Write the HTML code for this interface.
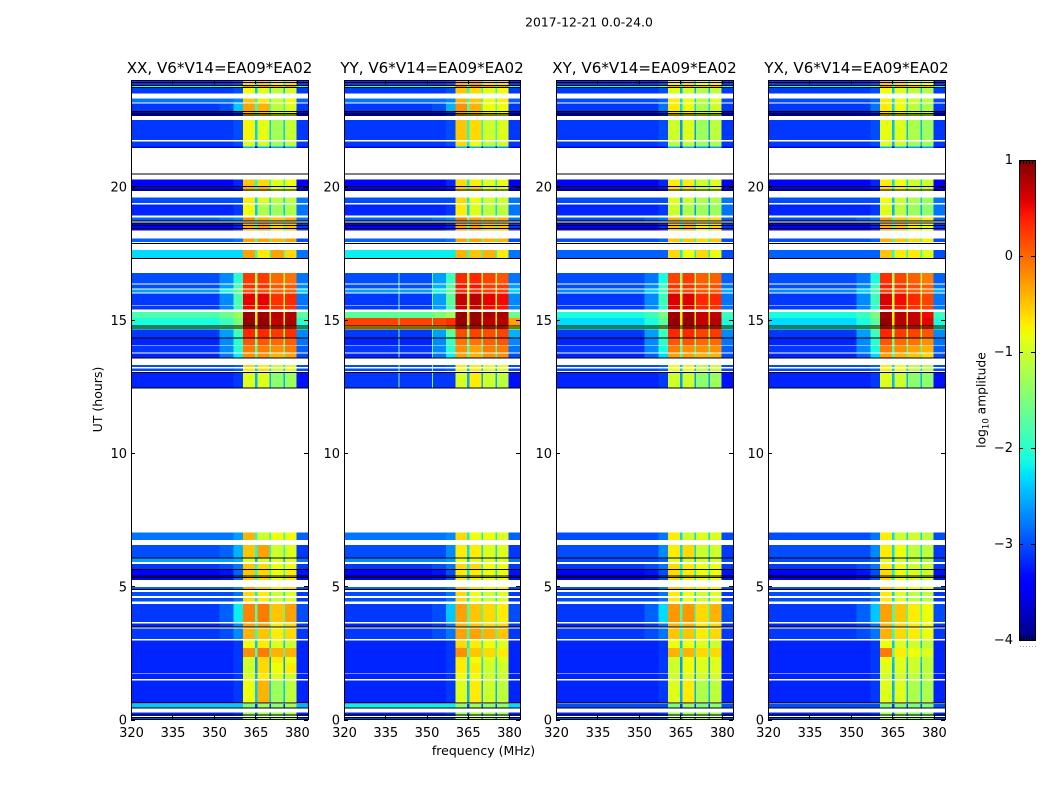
<!DOCTYPE html>
<html lang="en">
<head>
<meta charset="utf-8">
<title>2017-12-21 0.0-24.0</title>
<style>
html,body{margin:0;padding:0;background:#fff;}
svg{display:block;}
text{font-family:"DejaVu Sans","Liberation Sans",sans-serif;fill:#000;}
</style>
</head>
<body>
<svg id="figure" xmlns="http://www.w3.org/2000/svg" width="1050" height="800" viewBox="0 0 1050 800">
<defs><linearGradient id="jetGradient" x1="0" y1="1" x2="0" y2="0"></linearGradient></defs>
<text x="589" y="26.5" font-size="12.4" text-anchor="middle">2017-12-21 0.0-24.0</text>
<text x="483.5" y="755" font-size="12.5" text-anchor="middle">frequency (MHz)</text>
<text x="102" y="399.5" font-size="12.5" text-anchor="middle" transform="rotate(-90 102 399.5)">UT (hours)</text>
<text x="985.5" y="400" font-size="12.3" text-anchor="middle" transform="rotate(-90 985.5 400)">log<tspan font-size="8.5" dy="3">10</tspan><tspan dy="-3"> amplitude</tspan></text>
</svg>
<script>
// Frequency band edges in MHz: background, two roll-off zones, four passbands with notches, upper edge
const freqEdges = [320,352,357,360.5,364.8,365.7,370,370.6,375.1,375.6,379.9,384];
const xTicks = [320,335,350,365,380];
const yTicks = [0,5,10,15,20];
const cbarTicks = [1,0,-1,-2,-3,-4];
const panelTitles = ["XX, V6*V14=EA09*EA02","YY, V6*V14=EA09*EA02","XY, V6*V14=EA09*EA02","YX, V6*V14=EA09*EA02"];
// Start and end UT of each scan block (gaps are unflagged white)
const utTop = [23.98,23.81,23.72,23.31,23.12,22.84,22.50,21.69,21.51,20.27,20.01,19.59,19.33,18.84,18.64,18.06,17.62,16.76,16.33,16.14,15.99,15.53,15.29,15.06,14.79,14.64,14.32,14.01,13.74,13.31,13.18,13.02,7.02,6.54,6.07,5.83,5.63,4.98,4.79,4.56,4.33,3.61,3.42,2.97,2.68,2.34,2.12,1.70,1.47,0.58,0.27,0.07];
const utBottom = [23.81,23.72,23.49,23.16,22.84,22.65,21.75,21.51,21.45,20.01,19.83,19.38,18.92,18.73,18.36,17.92,17.31,16.37,16.18,16.03,15.56,15.38,15.06,14.79,14.64,14.32,14.04,13.78,13.58,13.22,13.07,12.44,6.73,6.07,5.92,5.63,5.23,4.86,4.63,4.42,3.65,3.47,3.02,2.68,2.34,2.12,1.73,1.52,0.645,0.44,0.13,0];
// Near-zero flagged integrations drawn as black lines
const blackLinesUT = [23.90,23.79,23.72,22.82,22.75,22.69,20.48,20.01,19.88,18.70,18.63,18.54,18.43,17.86,17.30,14.76,14.70,14.32,13.57,13.03,12.44,6.06,5.63,5.39,5.33,4.88,3.47,0.62,0.44,0.17,0.07];
// log10 amplitude per block: background, rolloff1, rolloff2, bandA, bandB, bandC, bandD, upper edge
const xxLevels = [
[-3.1,-3.1,-3,-.6,-.5,-.7,-.6,-3.1],[-1.9,-1.7,-1.3,-.2,-.2,-.3,-.2,-1.9],[-3.1,-3.1,-3,-.8,-.9,-1.1,-1,-3.1],[-2.8,-2.8,-2.7,-.5,-.7,-1,-.8,-2.9],[-3.1,-3,-2.4,-.3,-.4,-1.1,-.9,-3.1],[-3.5,-3.4,-3.2,-.4,-.5,-.9,-.9,-3.4],[-3.1,-3.1,-3,-.75,-.85,-1.25,-1.05,-3.1],[-3.1,-3.1,-3,-.9,-1,-1.3,-1.1,-3.1],[-3.5,-3.5,-3.4,-2.5,-2.5,-2.6,-2.6,-3.5],
[-3.4,-3.4,-3.2,-.5,-.6,-.9,-.8,-3.5],[-3.5,-3.5,-3.3,-.4,-.4,-.9,-.9,-3.5],[-3,-3,-3,-.7,-.9,-1.1,-1.1,-2.8],[-3.2,-3.2,-3.1,-.8,-1.2,-1.3,-1.2,-2.8],[-2.9,-2.8,-2.7,-.2,-.4,-.5,-.4,-2.8],[-3.4,-3.4,-3.2,-.4,-.3,-.6,-.5,-3.1],[-2.9,-2.9,-2.8,-.3,-.3,-.4,-.3,-3],[-2.3,-2.3,-2.3,-.3,-.7,-.3,-.6,-2.8],
[-3,-2.7,-2,.25,.25,0,-.05,-2.8],[-3,-2.6,-1.8,.3,.3,.1,.1,-2.7],[-2.6,-2.1,-1.6,.1,.1,0,0,-2.3],[-3.1,-2.7,-1.8,.55,.55,.3,.35,-2.8],[-3.1,-2.7,-1.9,.5,.5,.3,.3,-2.8],[-1.8,-1.6,-1.3,.85,.85,.75,.75,-1.7],[-2.1,-1.9,-1.5,.9,.9,.7,.8,-2],[-1.8,-1.7,-1.4,.4,.4,.3,.3,-1.8],[-3.1,-2.6,-1.9,.35,.35,.25,.3,-2.7],[-3.2,-2.7,-2,.1,.1,0,.05,-2.8],[-3.1,-2.7,-2,-.1,-.1,-.2,-.1,-2.9],[-3.2,-2.8,-2.2,-.2,-.2,-.4,-.3,-3],[-3,-3,-2.9,-.6,-.7,-1,-.9,-3],[-3,-3,-2.9,-.7,-.6,-1,-.9,-3],[-3.2,-3.2,-3.1,-.9,-.9,-1.4,-1.3,-3.3],
[-2.8,-2.8,-2.6,-.4,-1,-.8,-.8,-2.9],[-3,-2.9,-2.5,-.5,-.3,-1,-.9,-3.1],[-2.6,-2.6,-2.5,-.9,-1,-.9,-.9,-2.8],[-3.1,-3,-2.8,-.5,-.6,-.8,-.8,-3.1],[-3.4,-3.3,-2.9,-.5,-.6,-.8,-.7,-3.3],[-2.9,-2.9,-2.7,-.3,-.5,-.7,-.6,-3],[-3,-3,-2.8,-.6,-.7,-1,-.9,-3.1],[-3,-3,-2.8,-.6,-.7,-1,-.9,-3.1],[-3.1,-2.9,-2.2,-.15,-.1,-.5,-.3,-3],[-3.2,-3.1,-2.7,-.3,-.3,-.7,-.6,-3.1],[-3.1,-3,-2.7,-.4,-.5,-.7,-.6,-3.1],[-3.2,-3.2,-3.1,-.8,-.7,-.9,-1,-3.2],[-3.2,-3.2,-3.1,-.2,-.1,-.4,-.4,-3.2],[-3.2,-3.2,-3.1,-1,-.6,-.7,-.8,-3.2],[-3.2,-3.2,-3.1,-1,-.6,-.8,-.7,-3.2],[-3.2,-3.2,-3.1,-.9,-.7,-.9,-1,-3.2],[-3.2,-3.2,-3.1,-.8,-.4,-1.3,-1.1,-3.2],[-2.4,-2.4,-2.4,-1.5,-1.3,-1.4,-1.3,-2.5],[-3.2,-3.2,-3.1,-1.3,-1.2,-1.3,-1.2,-3.2],[-3,-3,-3,-1.3,-1.2,-1.3,-1.2,-3]
];
const yyLevels = [
[-3.1,-3.1,-3,-.4,-.3,-.6,-.6,-3.1],[-1.9,-1.7,-1.3,-.1,-.1,-.2,-.2,-1.9],[-3.1,-3.1,-3,-.5,-.6,-.9,-.8,-3.1],[-2.8,-2.8,-2.7,-.4,-.5,-.8,-.7,-2.9],[-3.1,-3,-2.5,-.2,-.4,-.8,-.8,-3.1],[-3.5,-3.4,-3.2,-.3,-.4,-.7,-.8,-3.4],[-3.1,-3.1,-3,-.5,-.6,-1,-.9,-3.1],[-3.1,-3.1,-3,-.6,-.8,-1.1,-1,-3.1],[-3.5,-3.5,-3.4,-2.5,-2.5,-2.6,-2.6,-3.5],
[-3.4,-3.4,-3.2,-.6,-.7,-.9,-.8,-3.5],[-3.5,-3.5,-3.3,-.5,-.5,-.9,-.9,-3.5],[-3,-3,-3,-.6,-.8,-1,-1,-2.8],[-3.2,-3.2,-3.1,-.7,-.9,-1.1,-1.1,-2.8],[-2.9,-2.8,-2.7,-.1,-.3,-.4,-.4,-2.8],[-3.4,-3.4,-3.2,-.3,-.3,-.5,-.5,-3.1],[-2.9,-2.9,-2.8,-.3,-.3,-.4,-.4,-3],[-2.2,-2.2,-2.2,-.4,-.5,-.4,-.7,-2.8],
[-3,-2.6,-1.9,.35,.35,.2,.1,-2.8],[-3,-2.5,-1.7,.45,.45,.25,.25,-2.6],[-2.6,-2.1,-1.6,.3,.3,.2,.2,-2.3],[-3.1,-2.6,-1.7,.7,.75,.55,.5,-2.7],[-3.1,-2.6,-1.8,.65,.7,.5,.45,-2.7],[-1.7,-1.5,-1.3,.9,.9,.8,.8,-1.6],[.2,.2,.3,.9,.9,.75,.75,-.3],[-.6,-.6,-.4,.3,.3,.3,.3,-.9],[-3.1,-2.6,-1.7,.15,.2,.15,.2,-2.5],[-3.2,-2.7,-1.9,-.05,-.05,.05,.1,-2.7],[-3.1,-2.7,-2,-.2,-.3,-.1,-.1,-2.8],[-3.2,-2.8,-2.2,-.3,-.4,-.2,-.2,-3],[-3,-3,-2.9,-.7,-.7,-.8,-.9,-3],[-3,-3,-2.9,-.8,-.7,-.9,-.9,-3],[-3.1,-3.1,-3.1,-.95,-.7,-1,-1.1,-3.3],
[-2.8,-2.8,-2.7,-.6,-.8,-.8,-.9,-2.9],[-3,-3,-2.7,-.7,-.7,-.9,-.9,-3.1],[-2.7,-2.7,-2.6,-.8,-.9,-.9,-.9,-2.8],[-3.1,-3,-2.8,-.6,-.6,-.8,-.8,-3.1],[-3.4,-3.3,-3,-.7,-.7,-.8,-.8,-3.3],[-2.9,-2.9,-2.8,-.4,-.6,-.7,-.7,-3],[-3,-3,-2.8,-.6,-.8,-1,-.9,-3.1],[-3,-3,-2.8,-.6,-.8,-1,-.9,-3.1],[-3.1,-3,-2.4,-.3,-.5,-.6,-.7,-3],[-3.2,-3.1,-2.8,-.4,-.5,-.6,-.6,-3.1],[-3.1,-3,-2.8,-.3,-.3,-.4,-.5,-3.1],[-3.2,-3.2,-3.1,-.6,-.7,-.8,-.9,-3.2],[-3.2,-3.2,-3.1,-.2,-.5,-.6,-.7,-3.2],[-3.2,-3.2,-3.1,-.7,-.8,-.9,-.9,-3.2],[-3.2,-3.2,-3.1,-.7,-.7,-1,-1,-3.2],[-3.2,-3.2,-3.1,-.8,-.8,-1,-1,-3.2],[-3.2,-3.2,-3.1,-.9,-.7,-1,-1.1,-3.2],[-2.2,-2.2,-2.2,-1.4,-1.3,-1.4,-1.4,-2.3],[-3.2,-3.2,-3.1,-1.3,-1.2,-1.3,-1.3,-3.2],[-3,-3,-3,-1.3,-1.2,-1.3,-1.3,-3]
];
const xyLevels = [
[-3.1,-3.1,-3,-.7,-.6,-.8,-.7,-3.1],[-2,-1.9,-1.5,-.3,-.3,-.4,-.3,-2],[-3.1,-3.1,-3,-.9,-1,-1.2,-1.1,-3.1],[-3,-3,-2.9,-.7,-.8,-1.1,-.9,-3],[-3.1,-3.1,-2.8,-.7,-.8,-1.2,-1,-3.1],[-3.5,-3.4,-3.2,-.6,-.7,-1,-1,-3.4],[-3.1,-3.1,-3,-1,-.9,-1.3,-1.1,-3.1],[-3.1,-3.1,-3,-1.1,-1.1,-1.3,-1.2,-3.1],[-3.5,-3.5,-3.4,-2.5,-2.5,-2.6,-2.6,-3.5],
[-3.4,-3.4,-3.2,-.7,-.7,-1,-.9,-3.5],[-3.5,-3.5,-3.3,-.6,-.6,-1,-.9,-3.5],[-3,-3,-3,-.9,-1,-1.2,-1.2,-2.8],[-3.2,-3.2,-3.1,-1,-1.2,-1.3,-1.3,-2.8],[-3,-2.9,-2.8,-.4,-.5,-.6,-.6,-2.9],[-3.4,-3.4,-3.2,-.5,-.4,-.7,-.6,-3.1],[-3,-3,-2.9,-.5,-.5,-.6,-.5,-3],[-2.9,-2.9,-2.9,-.6,-.8,-.6,-.8,-3],
[-3,-2.8,-2.1,.2,.25,.05,.05,-2.9],[-3,-2.7,-1.9,.3,.3,.15,.15,-2.8],[-2.7,-2.3,-1.8,.15,.15,.05,.05,-2.5],[-3.1,-2.7,-1.9,.6,.6,.35,.35,-2.8],[-3.1,-2.7,-2,.55,.55,.35,.3,-2.8],[-2.1,-1.9,-1.5,.85,.85,.7,.7,-1.9],[-2.3,-2.1,-1.7,.9,.9,.7,.75,-2.1],[-1.9,-1.8,-1.4,.4,.4,.3,.3,-1.8],[-3.1,-2.6,-1.9,.35,.35,.2,.25,-2.7],[-3.2,-2.7,-2,.1,.1,0,0,-2.8],[-3.1,-2.7,-2.1,-.1,-.2,-.2,-.2,-2.9],[-3.2,-2.9,-2.3,-.3,-.3,-.4,-.4,-3],[-3,-3,-2.9,-.8,-.8,-1.1,-1,-3],[-3,-3,-2.9,-.8,-.8,-1.1,-1,-3],[-3.2,-3.2,-3.1,-1,-1,-1.4,-1.3,-3.3],
[-3,-3,-2.8,-.7,-1,-.9,-.9,-3],[-3,-3,-2.7,-.7,-.6,-1,-1,-3.1],[-3,-3,-2.9,-.9,-1,-1,-1,-3],[-3.1,-3,-2.8,-.6,-.7,-.8,-.8,-3.1],[-3.4,-3.3,-3,-.6,-.7,-.8,-.8,-3.3],[-3,-3,-2.8,-.5,-.6,-.7,-.7,-3],[-3,-3,-2.8,-.7,-.8,-1,-.9,-3.1],[-3,-3,-2.8,-.7,-.8,-1,-.9,-3.1],[-3.1,-2.9,-2.3,-.25,-.25,-.6,-.4,-3],[-3.2,-3.1,-2.8,-.4,-.4,-.7,-.6,-3.1],[-3.1,-3,-2.8,-.5,-.5,-.7,-.6,-3.1],[-3.2,-3.2,-3.1,-.8,-.8,-.9,-1,-3.2],[-3.2,-3.2,-3.1,-.4,-.4,-.6,-.6,-3.2],[-3.2,-3.2,-3.1,-1,-.8,-.9,-.9,-3.2],[-3.2,-3.2,-3.1,-1,-.8,-.9,-.9,-3.2],[-3.2,-3.2,-3.1,-1,-.9,-1,-1,-3.2],[-3.2,-3.2,-3.1,-.9,-.7,-1.2,-1.1,-3.2],[-3,-3,-3,-1.5,-1.4,-1.5,-1.4,-3],[-3.2,-3.2,-3.1,-1.3,-1.3,-1.3,-1.3,-3.2],[-3,-3,-3,-1.3,-1.3,-1.3,-1.3,-3]
];
const yxLevels = [
[-3.1,-3.1,-3,-.5,-.6,-.8,-.8,-3.1],[-2,-1.9,-1.5,-.2,-.3,-.4,-.4,-2],[-3.1,-3.1,-3,-.8,-.9,-1.1,-1.2,-3.1],[-3,-3,-2.9,-.7,-.8,-1,-1.1,-3],[-3.1,-3.1,-2.8,-.7,-.8,-1.1,-1.2,-3.1],[-3.5,-3.4,-3.2,-.6,-.7,-1,-1.1,-3.4],[-3.1,-3.1,-3,-.85,-.9,-1.2,-1.3,-3.1],[-3.1,-3.1,-3,-.9,-1,-1.3,-1.3,-3.1],[-3.5,-3.5,-3.4,-2.5,-2.5,-2.6,-2.6,-3.5],
[-3.4,-3.4,-3.2,-.7,-.8,-1,-1,-3.5],[-3.5,-3.5,-3.3,-.6,-.7,-1,-1,-3.5],[-3,-3,-3,-.8,-1,-1.2,-1.3,-2.8],[-3.2,-3.2,-3.1,-.9,-1.1,-1.3,-1.4,-2.8],[-3,-2.9,-2.8,-.3,-.5,-.6,-.7,-2.9],[-3.4,-3.4,-3.2,-.4,-.5,-.7,-.8,-3.1],[-3,-3,-2.9,-.4,-.5,-.6,-.7,-3],[-2.9,-2.9,-2.9,-.5,-.7,-.7,-.9,-3],
[-3,-2.8,-2.1,.3,.2,.05,-.1,-2.9],[-3,-2.7,-1.9,.4,.3,.15,.05,-2.8],[-2.7,-2.3,-1.8,.2,.15,.05,-.05,-2.5],[-3.1,-2.7,-1.9,.6,.5,.35,.2,-2.8],[-3.1,-2.7,-2,.55,.45,.3,.2,-2.8],[-2.1,-1.9,-1.5,.85,.75,.7,.5,-1.9],[-2.3,-2.1,-1.7,.9,.75,.7,.55,-2.1],[-1.9,-1.8,-1.4,.4,.3,.3,.2,-1.8],[-3.1,-2.6,-1.9,.35,.25,.2,.1,-2.7],[-3.2,-2.7,-2,.1,0,-.05,-.2,-2.8],[-3.1,-2.7,-2.1,-.1,-.2,-.3,-.4,-2.9],[-3.2,-2.9,-2.3,-.3,-.4,-.5,-.6,-3],[-3,-3,-2.9,-.7,-.8,-1.1,-1.1,-3],[-3,-3,-2.9,-.7,-.8,-1.1,-1.1,-3],[-3.2,-3.2,-3.1,-.9,-1,-1.4,-1.4,-3.3],
[-3,-3,-2.8,-.7,-1,-1,-1.1,-3],[-3,-3,-2.7,-.7,-.8,-1.1,-1.1,-3.1],[-3,-3,-2.9,-.9,-1,-1.1,-1.2,-3],[-3.1,-3,-2.8,-.7,-.8,-1,-1,-3.1],[-3.4,-3.3,-3,-.6,-.8,-.9,-1,-3.3],[-3,-3,-2.8,-.5,-.7,-.8,-.9,-3],[-3,-3,-2.8,-.7,-.9,-1.1,-1.1,-3.1],[-3,-3,-2.8,-.7,-.9,-1.1,-1.1,-3.1],[-3.1,-2.9,-2.4,-.3,-.5,-.7,-.8,-3],[-3.2,-3.1,-2.8,-.4,-.6,-.7,-.8,-3.1],[-3.1,-3,-2.8,-.4,-.6,-.7,-.8,-3.1],[-3.2,-3.2,-3.1,-.8,-.9,-1,-1.1,-3.2],[-3.2,-3.2,-3.1,-.1,-.7,-.8,-.9,-3.2],[-3.2,-3.2,-3.1,-.8,-.9,-1,-1.1,-3.2],[-3.2,-3.2,-3.1,-.9,-.9,-1,-1.1,-3.2],[-3.2,-3.2,-3.1,-1,-1,-1.1,-1.1,-3.2],[-3.2,-3.2,-3.1,-.9,-.9,-1.2,-1.2,-3.2],[-3,-3,-3,-1.5,-1.5,-1.5,-1.5,-3],[-3.2,-3.2,-3.1,-1.3,-1.3,-1.4,-1.4,-3.2],[-3,-3,-3,-1.3,-1.3,-1.4,-1.4,-3]
];
const panelLevels = [xxLevels,yyLevels,xyLevels,yxLevels];
// Persistent RFI channels in the YY panel (MHz), with UT span and level
const yyRfiFreqs = [339.9,352];
const yyRfiLevels = [-1.5,-1.6];
const yyRfiUT = [16.76,12.44];

const svg = document.getElementById('figure');
const NS = 'http://www.w3.org/2000/svg';
const panelLeft = [131,344,556,768];
const panelRight = [308,520,733,945];
const plotTop = 80, plotBottom = 719.5;
const yOf = ut => plotBottom - ut * (plotBottom - plotTop) / 24;
const xOf = (f,p) => panelLeft[p] + (f - 320) * (panelRight[p] - panelLeft[p]) / 64;

function jetChannel(v, pts){
  for(let i=1;i<pts.length;i++){
    if(v<=pts[i][0]){
      const a=pts[i-1], b=pts[i];
      return a[1]+(b[1]-a[1])*(v-a[0])/(b[0]-a[0]);
    }
  }
  return pts[pts.length-1][1];
}
const jetR=[[0,0],[.35,0],[.66,1],[.89,1],[1,.5]];
const jetG=[[0,0],[.125,0],[.375,1],[.64,1],[.91,0],[1,0]];
const jetB=[[0,.5],[.11,1],[.34,1],[.65,0],[1,0]];
function jet(level){
  const v=Math.max(0,Math.min(1,(level+4)/5));
  const c=[jetR,jetG,jetB].map(p=>Math.round(255*jetChannel(v,p)));
  return 'rgb('+c.join(',')+')';
}

function make(tag,parent){
  const el=document.createElementNS(NS,tag);
  parent.appendChild(el);
  return el;
}
function line(parent,x1,y1,x2,y2){
  const el=make('line',parent);
  el.setAttribute('x1',x1);
  el.setAttribute('y1',y1);
  el.setAttribute('x2',x2);
  el.setAttribute('y2',y2);
  el.setAttribute('stroke','#000');
  el.setAttribute('stroke-width','1');
  el.setAttribute('shape-rendering','crispEdges');
  return el;
}
function label(parent,x,y,str,anchor){
  const el=make('text',parent);
  el.setAttribute('x',x);
  el.setAttribute('y',y);
  el.setAttribute('font-size','13');
  el.setAttribute('text-anchor',anchor);
  el.textContent=str;
  return el;
}
const minus = v => String(v).replace('-','\u2212');

panelLevels.forEach((levels,p)=>{
  const g=make('g',svg);
  
  
  const heat=make('g',g);
  
  
  heat.setAttribute('shape-rendering','crispEdges');
  levels.forEach((row,r)=>{
    const notch=row[3]-1.6;
    const zoneLevels=[row[0],row[1],row[2],row[3],notch,row[4],notch,row[5],notch,row[6],row[7]];
    zoneLevels.forEach((lv,z)=>{
      const x0=xOf(freqEdges[z],p), x1=xOf(freqEdges[z+1],p);
      const y0=yOf(utTop[r]), y1=yOf(utBottom[r]);
      const cell=make('rect',heat);
      
      
      cell.setAttribute('x',x0.toFixed(2));
      cell.setAttribute('y',y0.toFixed(2));
      cell.setAttribute('width',(x1-x0).toFixed(2));
      cell.setAttribute('height',(y1-y0).toFixed(2));
      cell.setAttribute('fill',jet(lv));
    });
  });
  if(p===1){
    yyRfiFreqs.forEach((f,i)=>{
      levels.forEach((row,r)=>{
        if(utTop[r]>yyRfiUT[0]||utBottom[r]<yyRfiUT[1])return;
        const rfi=make('rect',heat);
        
        
        rfi.setAttribute('x',xOf(f,p).toFixed(2));
        rfi.setAttribute('y',yOf(utTop[r]).toFixed(2));
        rfi.setAttribute('width','1');
        rfi.setAttribute('height',(yOf(utBottom[r])-yOf(utTop[r])).toFixed(2));
        rfi.setAttribute('fill',jet(yyRfiLevels[i]));
      });
    });
  }
  blackLinesUT.forEach(ut=>{
    const bl=make('rect',heat);
    
    
    bl.setAttribute('x',panelLeft[p]);
    bl.setAttribute('y',(yOf(ut)-.5).toFixed(2));
    bl.setAttribute('width',panelRight[p]-panelLeft[p]);
    bl.setAttribute('height','1');
    bl.setAttribute('fill','#000');
  });
  const frame=make('rect',g);
  
  
  frame.setAttribute('x',panelLeft[p]+.5);
  frame.setAttribute('y',plotTop+.5);
  frame.setAttribute('width',panelRight[p]-panelLeft[p]);
  frame.setAttribute('height',plotBottom-plotTop-.5);
  frame.setAttribute('fill','none');
  frame.setAttribute('stroke','#000');
  frame.setAttribute('shape-rendering','crispEdges');
  const title=make('text',g);
  
  
  title.setAttribute('x',(panelLeft[p]+panelRight[p])/2);
  title.setAttribute('y','73');
  title.setAttribute('font-size','15.1');
  title.setAttribute('text-anchor','middle');
  title.textContent=panelTitles[p];
  xTicks.forEach(t=>{
    const x=Math.round(xOf(t,p))+.5;
    const a=line(g,x,plotBottom,x,plotBottom-4);
    
    
    const b=line(g,x,plotTop,x,plotTop+4);
    
    
    const tl=label(g,xOf(t,p)+.5,737,String(t),'middle');
    
    
  });
  yTicks.forEach(t=>{
    const y=Math.round(yOf(t))+.5;
    const a=line(g,panelLeft[p],y,panelLeft[p]+4,y);
    
    
    const b=line(g,panelRight[p],y,panelRight[p]-4,y);
    
    
    const tl=label(g,panelLeft[p]-4,yOf(t)+5,String(t),'end');
    
    
  });
});

// Colorbar
const cbLeft=1019, cbRight=1035, cbTop=160, cbBottom=640;
const cbY = v => cbBottom - (v + 4) * (cbBottom - cbTop) / 5;
const grad=document.getElementById('jetGradient');
for(let i=0;i<=60;i++){
  const stop=document.createElementNS(NS,'stop');
  stop.setAttribute('offset',(i/60).toFixed(4));
  stop.setAttribute('stop-color',jet(-4+5*i/60));
  grad.appendChild(stop);
}
const cb=make('g',svg);


const cbRect=make('rect',cb);


cbRect.setAttribute('x',cbLeft+.5);
cbRect.setAttribute('y',cbTop+.5);
cbRect.setAttribute('width',cbRight-cbLeft);
cbRect.setAttribute('height',cbBottom-cbTop);
cbRect.setAttribute('fill','url(#jetGradient)');
cbRect.setAttribute('stroke','#000');
cbRect.setAttribute('stroke-width','1');
cbRect.setAttribute('shape-rendering','crispEdges');
cbarTicks.forEach(v=>{
  const y=Math.round(cbY(v))+.5;
  const a=line(cb,cbLeft,y,cbLeft+4,y);
  
  
  const b=line(cb,cbRight,y,cbRight-4,y);
  
  
  const tl=label(cb,1013,cbY(v)+4,minus(v),'end');
  
  
});
for(let i=0;i<6;i++){
  const x=cbLeft+1+i*3;
  const t1=line(cb,x+.5,cbTop,x+.5,cbTop+4);
  
  
  const t2=line(cb,x+.5,cbBottom,x+.5,cbBottom-4);
  
  
  const dot=make('rect',cb);
  
  
  dot.setAttribute('x',x);
  dot.setAttribute('y','646');
  dot.setAttribute('width','1');
  dot.setAttribute('height','1');
  dot.setAttribute('fill','#aaa');
}
</script>
</body>
</html>
